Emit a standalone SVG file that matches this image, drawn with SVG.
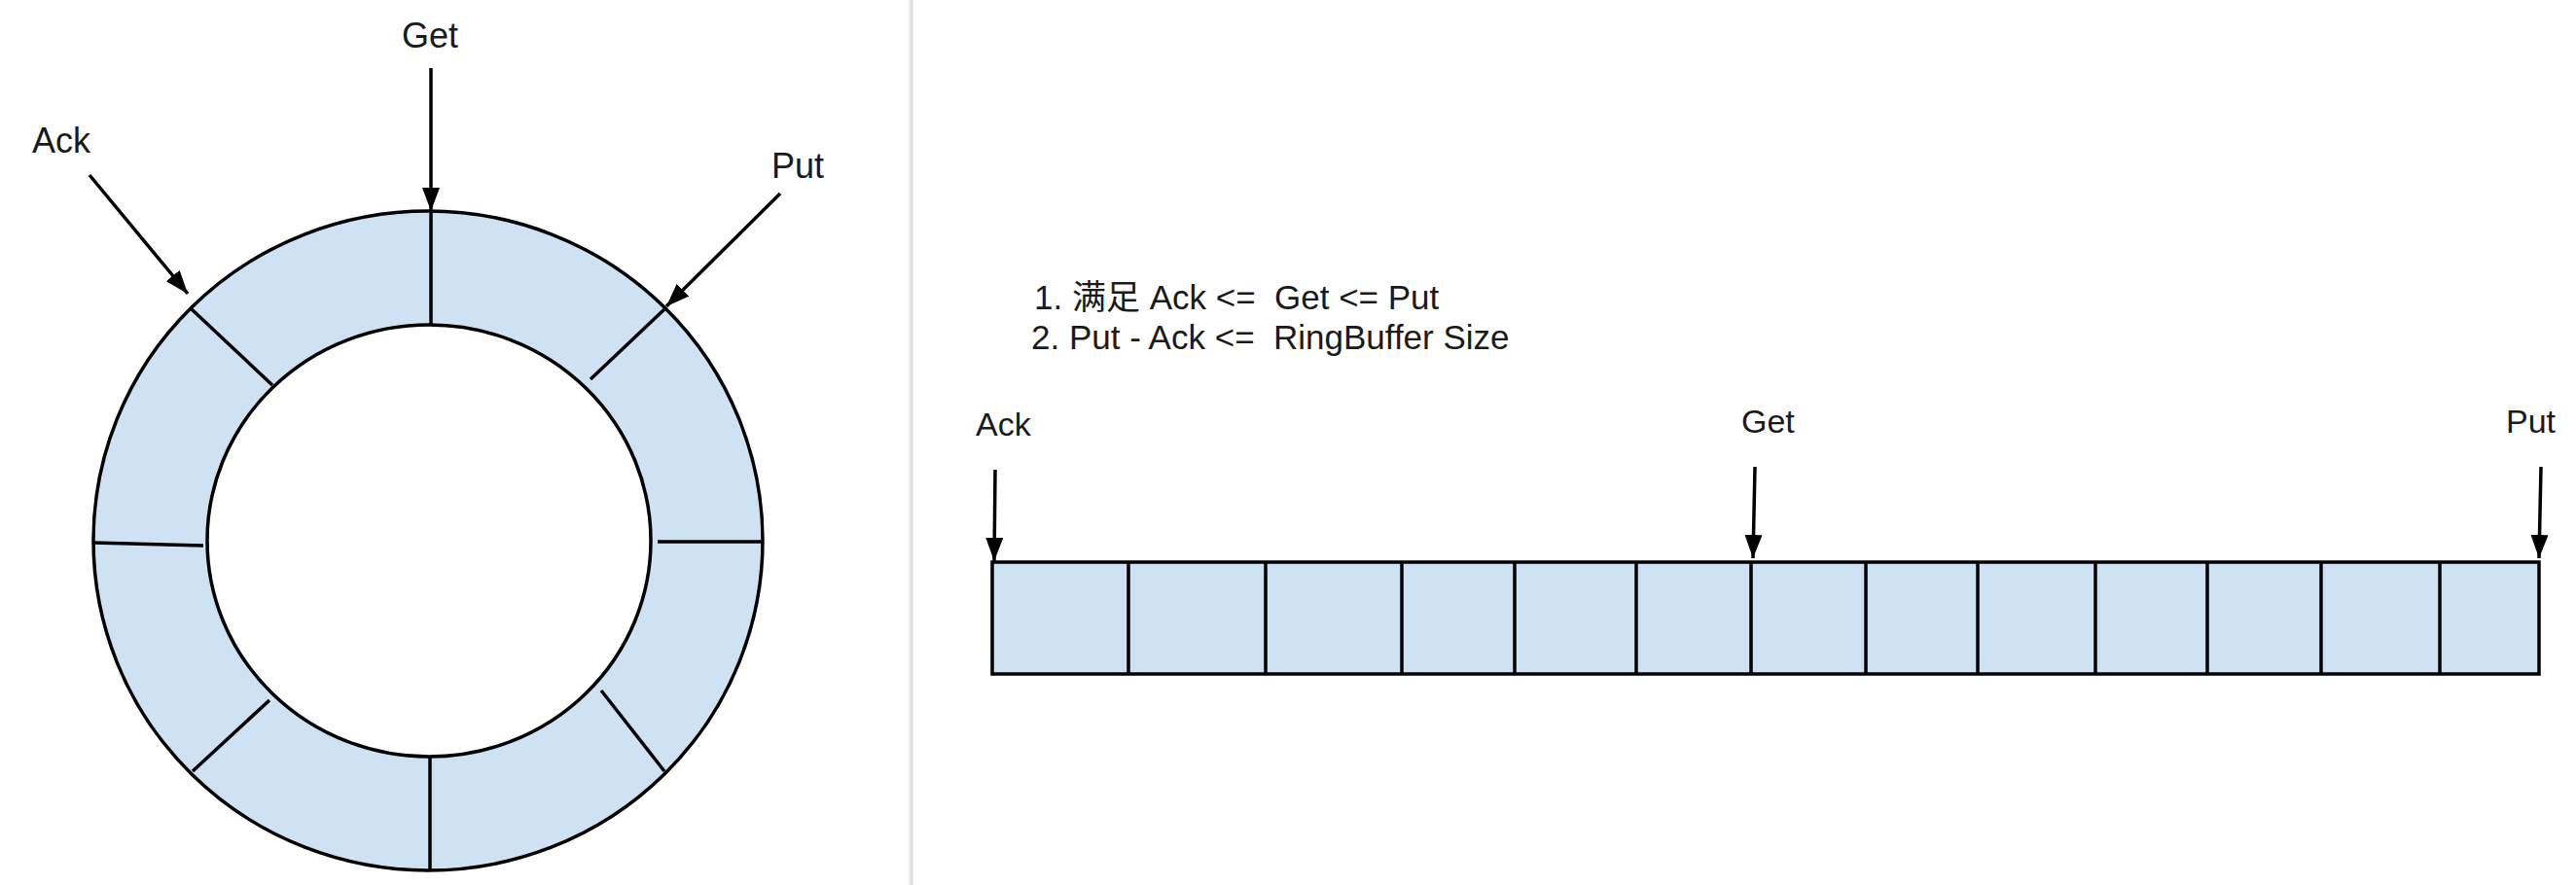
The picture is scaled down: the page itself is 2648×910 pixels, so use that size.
<svg xmlns="http://www.w3.org/2000/svg" width="2648" height="910" viewBox="0 0 2648 910">
<style>
.cell{fill:#cfe2f3;stroke:#000;stroke-width:3.5}
.hole{fill:#fff;stroke:#000;stroke-width:3.5}
.div{stroke:#000;stroke-width:3.5;fill:none}
.arr{stroke:#000;stroke-width:3.5;fill:none;marker-end:url(#ah)}
.lbl{font-family:"Liberation Sans",Arial,"Noto Sans CJK SC",sans-serif;fill:#1a1a1a;white-space:pre}
</style>
<defs>
<marker id="ah" markerUnits="userSpaceOnUse" markerWidth="26" markerHeight="20" refX="24" refY="9" orient="auto">
<path d="M0,0 L24,9 L0,18 z" fill="#000"/>
</marker>
</defs>
<rect width="2648" height="910" fill="#fff"/>
<rect x="934" y="0" width="5" height="910" fill="#ececec"/>
<line x1="937" y1="0" x2="937" y2="910" stroke="#dedede" stroke-width="2"/>

<g id="ring">
<ellipse class="cell" cx="440" cy="556" rx="344" ry="339"/>
<ellipse class="hole" cx="441" cy="556" rx="228" ry="222"/>
<line class="div" x1="443" y1="218" x2="443" y2="333"/>
<line class="div" x1="683" y1="318" x2="607" y2="390"/>
<line class="div" x1="676" y1="557" x2="784" y2="557"/>
<line class="div" x1="618" y1="710" x2="683" y2="793"/>
<line class="div" x1="442" y1="778" x2="442" y2="895"/>
<line class="div" x1="277" y1="720" x2="198" y2="793"/>
<line class="div" x1="96" y1="558" x2="209" y2="561"/>
<line class="div" x1="197" y1="318" x2="280" y2="396"/>
</g>

<g id="ring-get-label"><text class="lbl" x="442" y="49" font-size="36" text-anchor="middle">Get</text></g>
<g id="ring-ack-label"><text class="lbl" x="33" y="157" font-size="36">Ack</text></g>
<g id="ring-put-label"><text class="lbl" x="793" y="183" font-size="36">Put</text></g>

<g id="notes">
<text class="lbl" x="1063" y="318" font-size="35">1. 满足 Ack &lt;=  Get &lt;= Put</text>
<text class="lbl" x="1060" y="359" font-size="35">2. Put - Ack &lt;=  RingBuffer Size</text>
</g>

<g id="bar">
<rect class="cell" x="1020" y="578" width="1590" height="115"/>
<line class="div" x1="1160" y1="578" x2="1160" y2="693"/>
<line class="div" x1="1301" y1="578" x2="1301" y2="693"/>
<line class="div" x1="1441" y1="578" x2="1441" y2="693"/>
<line class="div" x1="1557" y1="578" x2="1557" y2="693"/>
<line class="div" x1="1682" y1="578" x2="1682" y2="693"/>
<line class="div" x1="1800" y1="578" x2="1800" y2="693"/>
<line class="div" x1="1918" y1="578" x2="1918" y2="693"/>
<line class="div" x1="2033" y1="578" x2="2033" y2="693"/>
<line class="div" x1="2154" y1="578" x2="2154" y2="693"/>
<line class="div" x1="2269" y1="578" x2="2269" y2="693"/>
<line class="div" x1="2386" y1="578" x2="2386" y2="693"/>
<line class="div" x1="2508" y1="578" x2="2508" y2="693"/>
</g>

<g id="bar-ack-label"><text class="lbl" x="1003" y="448" font-size="34">Ack</text></g>
<g id="bar-get-label"><text class="lbl" x="1790" y="445" font-size="34">Get</text></g>
<g id="bar-put-label"><text class="lbl" x="2576" y="445" font-size="34">Put</text></g>

<g id="connectors">
<line class="arr" x1="443" y1="70" x2="443" y2="217"/>
<line class="arr" x1="92" y1="180" x2="193" y2="302"/>
<line class="arr" x1="802" y1="199" x2="685" y2="315"/>
<line class="arr" x1="1023" y1="483" x2="1022" y2="577"/>
<line class="arr" x1="1804" y1="480" x2="1802" y2="574"/>
<line class="arr" x1="2612" y1="480" x2="2610" y2="574"/>
</g>
</svg>
